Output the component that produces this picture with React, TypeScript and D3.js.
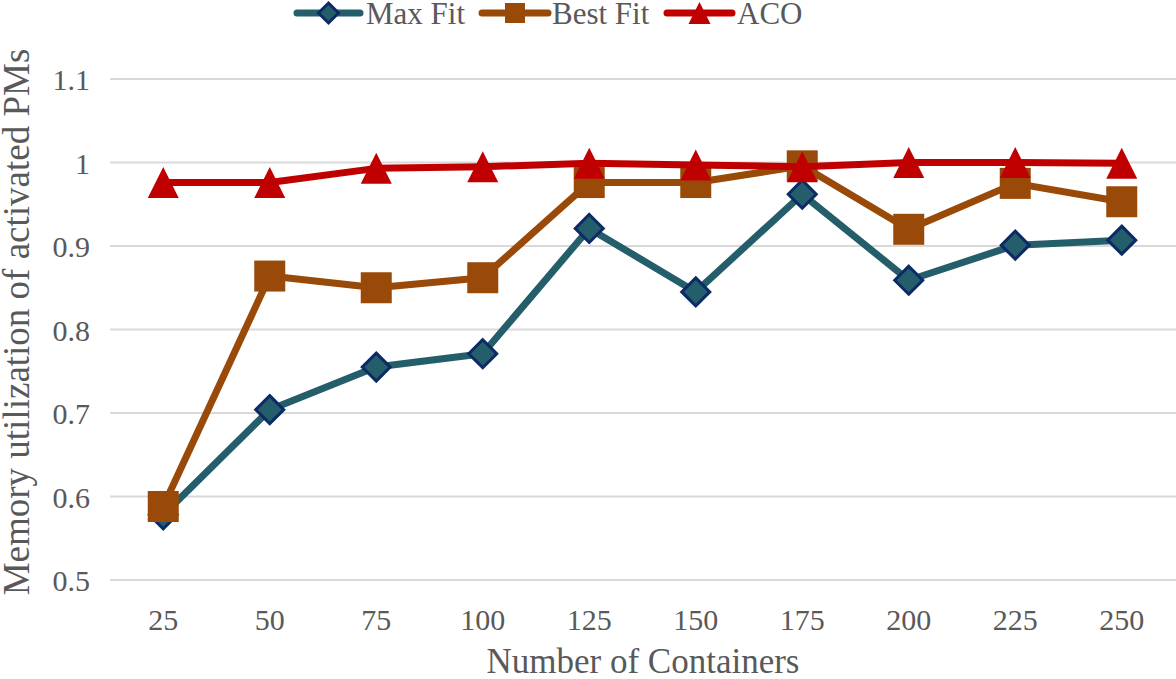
import React from "react";
import * as d3 from "d3";

const categories = ["25", "50", "75", "100", "125", "150", "175", "200", "225", "250"];
const maxFit = [0.578, 0.704, 0.755, 0.771, 0.921, 0.845, 0.962, 0.859, 0.901, 0.907];
const bestFit = [0.588, 0.864, 0.850, 0.862, 0.976, 0.976, 0.996, 0.920, 0.975, 0.953];
const aco = [0.976, 0.976, 0.993, 0.995, 0.999, 0.997, 0.995, 1.0, 1.0, 0.999];
const yTicks = [0.5, 0.6, 0.7, 0.8, 0.9, 1.0, 1.1];
const seriesNames = ["Max Fit", "Best Fit", "ACO"];

const W = 1176;
const H = 679;
const FONT = '"Liberation Serif", "Times New Roman", serif';
const TEXT = "#595959";

const colors = { max: "#255E6B", maxBorder: "#0C2A66", best: "#9A4A08", aco: "#C00000" };

function Diamond({ x, y, r }: { x: number; y: number; r: number }) {
  return (
    <path
      d={`M${x},${y - r}L${x + r},${y}L${x},${y + r}L${x - r},${y}Z`}
      fill={colors.max}
      stroke={colors.maxBorder}
      strokeWidth={3}
    />
  );
}
function Square({ x, y, s }: { x: number; y: number; s: number }) {
  return <rect x={x - s / 2} y={y - s / 2} width={s} height={s} fill={colors.best} />;
}
function Triangle({ x, y, s }: { x: number; y: number; s: number }) {
  return (
    <path
      d={`M${x},${y - s / 2}L${x + s / 2},${y + s / 2}L${x - s / 2},${y + s / 2}Z`}
      fill={colors.aco}
    />
  );
}

const textStyle = (size: number): React.CSSProperties => ({ fontFamily: FONT, fontSize: size, fill: TEXT });

export default function App() {
  const x = d3.scalePoint<string>().domain(categories).range([110, 1175]).padding(0.5);
  const y = d3.scaleLinear().domain([0.5, 1.1]).range([580, 79]);
  const line = d3
    .line<number>()
    .x((_, i) => x(categories[i]) as number)
    .y((d) => y(d));

  const legendY = 13;
  const legendItems = [
    { name: seriesNames[0], x0: 297, x1: 360, tx: 366, color: colors.max, kind: "d" },
    { name: seriesNames[1], x0: 482, x1: 548, tx: 552, color: colors.best, kind: "s" },
    { name: seriesNames[2], x0: 667, x1: 732, tx: 737, color: colors.aco, kind: "t" },
  ];

  return (
    <svg width={W} height={H} style={{ position: "absolute", left: 0, top: 0, background: "#fff" }}>
      {yTicks.map((t) => (
        <line key={t} x1={110} x2={1176} y1={y(t)} y2={y(t)} stroke="#D9D9D9" strokeWidth={2} />
      ))}
      {yTicks.map((t) => (
        <text key={"yl" + t} x={90} y={y(t) + 11} textAnchor="end" style={textStyle(30)}>
          {d3.format("~g")(t)}
        </text>
      ))}
      {categories.map((c) => (
        <text key={"xl" + c} x={x(c) as number} y={630} textAnchor="middle" style={textStyle(30)}>
          {c}
        </text>
      ))}
      <text x={643} y={673} textAnchor="middle" style={textStyle(35)}>
        Number of Containers
      </text>
      <text transform={`translate(29,322) rotate(-90)`} textAnchor="middle" style={textStyle(37)}>
        Memory utilization of activated PMs
      </text>

      <path d={line(maxFit) || ""} fill="none" stroke={colors.max} strokeWidth={7} strokeLinejoin="round" />
      {maxFit.map((v, i) => (
        <Diamond key={"m" + i} x={x(categories[i]) as number} y={y(v)} r={14} />
      ))}
      <path d={line(bestFit) || ""} fill="none" stroke={colors.best} strokeWidth={7} strokeLinejoin="round" />
      {bestFit.map((v, i) => (
        <Square key={"b" + i} x={x(categories[i]) as number} y={y(v)} s={31} />
      ))}
      <path d={line(aco) || ""} fill="none" stroke={colors.aco} strokeWidth={7} strokeLinejoin="round" />
      {aco.map((v, i) => (
        <Triangle key={"a" + i} x={x(categories[i]) as number} y={y(v)} s={31} />
      ))}

      {legendItems.map((it) => {
        const cx = (it.x0 + it.x1) / 2;
        return (
          <g key={it.name}>
            <line x1={it.x0} x2={it.x1} y1={legendY} y2={legendY} stroke={it.color} strokeWidth={7} strokeLinecap="round" />
            {it.kind === "d" && <Diamond x={cx} y={legendY} r={10} />}
            {it.kind === "s" && <Square x={cx} y={legendY} s={20} />}
            {it.kind === "t" && <Triangle x={cx} y={legendY} s={22} />}
            <text x={it.tx} y={legendY + 11} style={textStyle(31)}>
              {it.name}
            </text>
          </g>
        );
      })}
    </svg>
  );
}
